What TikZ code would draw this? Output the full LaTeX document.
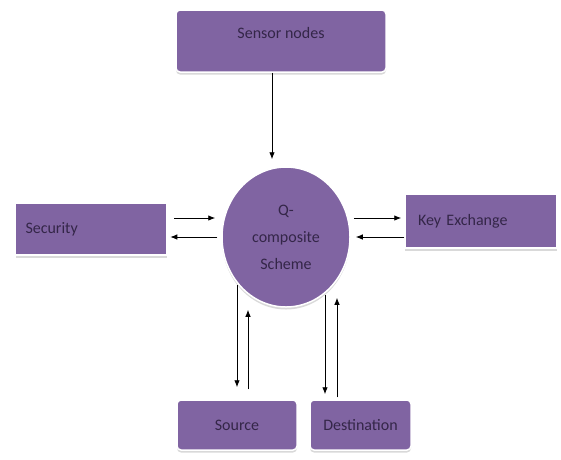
\documentclass[tikz,border=0pt]{standalone}
\usepackage{fontspec}
\setmainfont{Carlito}
\usetikzlibrary{shapes.geometric,shadows,arrows.meta}

\definecolor{boxpurple}{RGB}{128,100,162}
\definecolor{boxtext}{RGB}{52,38,72}

\tikzstyle{module}=[rectangle,rounded corners=4pt,draw=white,line width=1.5pt,fill=boxpurple,
	text=boxtext,font=\fontsize{16}{19}\selectfont,
	drop shadow={shadow xshift=0pt,shadow yshift=-2.5pt,opacity=.3}]
\tikzstyle{sidebox}=[module,rounded corners=0pt,align=left,inner xsep=10pt,minimum height=52pt]
\tikzstyle{scheme}=[ellipse,draw=white,line width=1.5pt,fill=boxpurple,text=boxtext,
	minimum width=128pt,minimum height=140pt,inner sep=0pt,align=center,
	font=\fontsize{16}{27}\selectfont,
	drop shadow={shadow xshift=0pt,shadow yshift=-2.5pt,opacity=.3}]

\begin{document}
\begin{tikzpicture}[x=1pt,y=-1pt,>={Latex[length=7pt,width=5.5pt]},line width=0.9pt]
	\useasboundingbox (0,0) rectangle (561,459);

	\node (qcs) at (286,237) [scheme] {Q-\\composite\\Scheme};

	\node (sensor) at (281,41) [module,minimum width=210pt,minimum height=62pt,text depth=16pt] {Sensor nodes};

		\node (security) at (91,229) [sidebox,text width=131pt] {Security};
		\node (keyex) at (481,221) [sidebox,text width=126pt,inner xsep=13pt,minimum height=54pt] {Key Exchange};

		\node (source) at (237,425) [module,minimum width=120pt,minimum height=50pt] {Source};
		\node (dest) at (360.5,425) [module,minimum width=101pt,minimum height=50pt] {Destination};

	\draw [->] ([xshift=-9pt]sensor.south) to ([xshift=-14pt,yshift=7pt]qcs.north);

	\draw [->] ([xshift=7pt,yshift=11pt]security.east) to ([xshift=-6pt,yshift=19pt]qcs.west);
	\draw [->] ([xshift=-4pt]qcs.west) to ([xshift=3pt,yshift=-8pt]security.east);

	\draw [->] ([xshift=3pt,yshift=19pt]qcs.east) to ([xshift=-3pt,yshift=3pt]keyex.west);
	\draw [->] ([yshift=-16pt]keyex.west) to ([xshift=5pt]qcs.east);

	\draw [->] ([xshift=-49pt,yshift=23pt]qcs.south) to ([yshift=12pt]source.north);
	\draw [->] ([xshift=11pt,yshift=10pt]source.north) to ([xshift=-38pt,yshift=-2pt]qcs.south);

	\draw [->] ([xshift=39pt,yshift=13pt]qcs.south) to ([xshift=-35.5pt,yshift=5pt]dest.north);
	\draw [->] ([xshift=-23.5pt,yshift=2pt]dest.north) to ([xshift=51pt,yshift=10pt]qcs.south);


\end{tikzpicture}
\end{document}
